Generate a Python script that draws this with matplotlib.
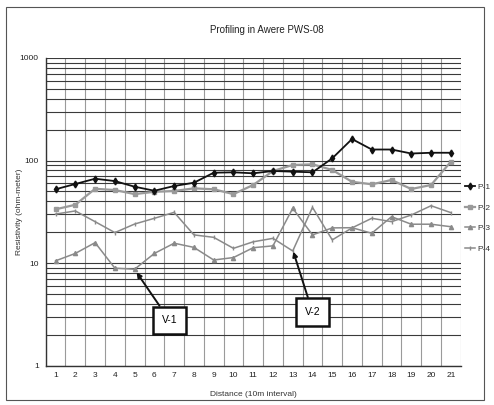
import matplotlib
matplotlib.use("Agg")
import matplotlib.pyplot as plt
from matplotlib.ticker import FixedLocator, NullFormatter, LogLocator
from matplotlib.patches import Rectangle
from matplotlib import font_manager

names = {f.name for f in font_manager.fontManager.ttflist}
FONT = ['Liberation Sans Narrow', 'DejaVu Sans'] if 'Liberation Sans Narrow' in names else ['Liberation Sans', 'DejaVu Sans']
plt.rcParams['font.family'] = FONT

distance = list(range(1, 22))
p1 = [52.4, 59, 66.4, 63, 55.5, 50.7, 56.4, 60.7, 76, 76.7, 75, 79, 77.8, 76.7, 105, 162, 128, 128, 117, 119, 119]
p2 = [33.4, 37, 53, 51.5, 47, 49.5, 50.4, 53.5, 52.4, 47, 57.7, 79, 90.4, 91.8, 80.8, 62, 58.6, 64.5, 52.7, 57.7, 97.3]
p3 = [10.5, 12.4, 15.8, 8.9, 8.7, 12.4, 15.6, 14.2, 10.7, 11.3, 14.1, 14.7, 34.2, 18.8, 22, 22.1, 19.5, 28.3, 23.9, 23.9, 22.6]
p4 = [30, 32.2, 25.3, 19.8, 24, 27.3, 31.2, 18.8, 17.8, 13.9, 16.1, 17.4, 13.1, 34.9, 16.8, 22, 27.3, 25.3, 29.4, 36.2, 31]
series_names = ['P-1', 'P-2', 'P-3', 'P-4']

W, H = 494, 405
fig = plt.figure(figsize=(W / 100, H / 100), dpi=100)
ax = fig.add_axes([45.7 / W, 1 - 365.5 / H, (460.7 - 45.7) / W, (365.5 - 58) / H])

# outer chart frame
fig.patches.append(Rectangle((6 / W, 1 - 400 / H), (484 - 6) / W, (400 - 7) / H,
                             transform=fig.transFigure, fill=False, ec='#555555', lw=0.8))

ax.set_yscale('log')
ax.set_xlim(0.5, 21.5)
ax.set_ylim(1, 1000)

ax.plot(distance, p1, color='#111111', lw=1.3, marker='d', ms=3.5, mfc='#111111', mec='#111111', label=series_names[0], zorder=5)
ax.plot(distance, p2, color='#9a9a9a', lw=1.6, marker='s', ms=3.5, mfc='#9a9a9a', mec='#9a9a9a', label=series_names[1], zorder=4)
ax.plot(distance, p3, color='#8a8a8a', lw=1.1, marker='^', ms=3, mfc='#8a8a8a', mec='#8a8a8a', label=series_names[2], zorder=4)
ax.plot(distance, p4, color='#8a8a8a', lw=1.1, marker='|', ms=3, mec='#8a8a8a', label=series_names[3], zorder=4)

ax.xaxis.set_major_locator(FixedLocator(distance))
ax.set_xticklabels([str(d) for d in distance])
ax.xaxis.set_minor_locator(FixedLocator([i + 0.5 for i in range(0, 22)]))
ax.yaxis.set_major_locator(FixedLocator([1, 10, 100, 1000]))
ax.set_yticklabels(['1', '10', '100', '1000'])
ax.yaxis.set_minor_locator(LogLocator(base=10, subs=range(2, 10)))
ax.yaxis.set_minor_formatter(NullFormatter())
ax.tick_params(axis='both', which='both', length=0, labelsize=6, pad=5, colors='#222222')

ax.grid(True, axis='y', which='both', color='#3a3a3a', lw=0.8)
ax.grid(True, axis='x', which='minor', color='#9a9a9a', lw=0.8)
ax.grid(False, axis='x', which='major')
for s in ['left', 'bottom']:
    ax.spines[s].set_color('#333333')
    ax.spines[s].set_linewidth(1.0)
for s in ['top', 'right']:
    ax.spines[s].set_visible(False)

fig.text(267 / W, 1 - 30 / H, 'Profiling in Awere PWS-08', ha='center', va='center', fontsize=7, color='#222222')
ax.set_ylabel('Resistivity (ohm-meter)', fontsize=6, color='#333333', va='center')
ax.yaxis.set_label_coords((20 - 45.7) / 415, 0.5)
ax.set_xlabel('Distance (10m interval)', fontsize=6, color='#333333', labelpad=8)

bbox = dict(boxstyle='square,pad=0.85', fc='white', ec='#111111', lw=1.8)
ax.annotate('V-1', xy=(5.1, 8.1), xytext=(6.77, 2.75), fontsize=7.5, ha='center', va='center',
            bbox=bbox, arrowprops=dict(arrowstyle='-|>', color='#111111', lw=1.4, mutation_scale=7, shrinkA=0, shrinkB=0), zorder=10)
ax.annotate('V-2', xy=(13.03, 12.9), xytext=(14.0, 3.33), fontsize=7.5, ha='center', va='center',
            bbox=bbox, arrowprops=dict(arrowstyle='-|>', color='#111111', lw=1.4, mutation_scale=7, shrinkA=0, shrinkB=0), zorder=10)

leg = ax.legend(loc='upper left', bbox_to_anchor=(465 / W, 1 - 183 / H), bbox_transform=fig.transFigure,
                frameon=False, fontsize=6, handlelength=1.2, handletextpad=0.3, labelspacing=1.55, borderaxespad=0,
                borderpad=0)
for t in leg.get_texts():
    t.set_color('#333333')

fig.savefig('out.png', dpi=100)
